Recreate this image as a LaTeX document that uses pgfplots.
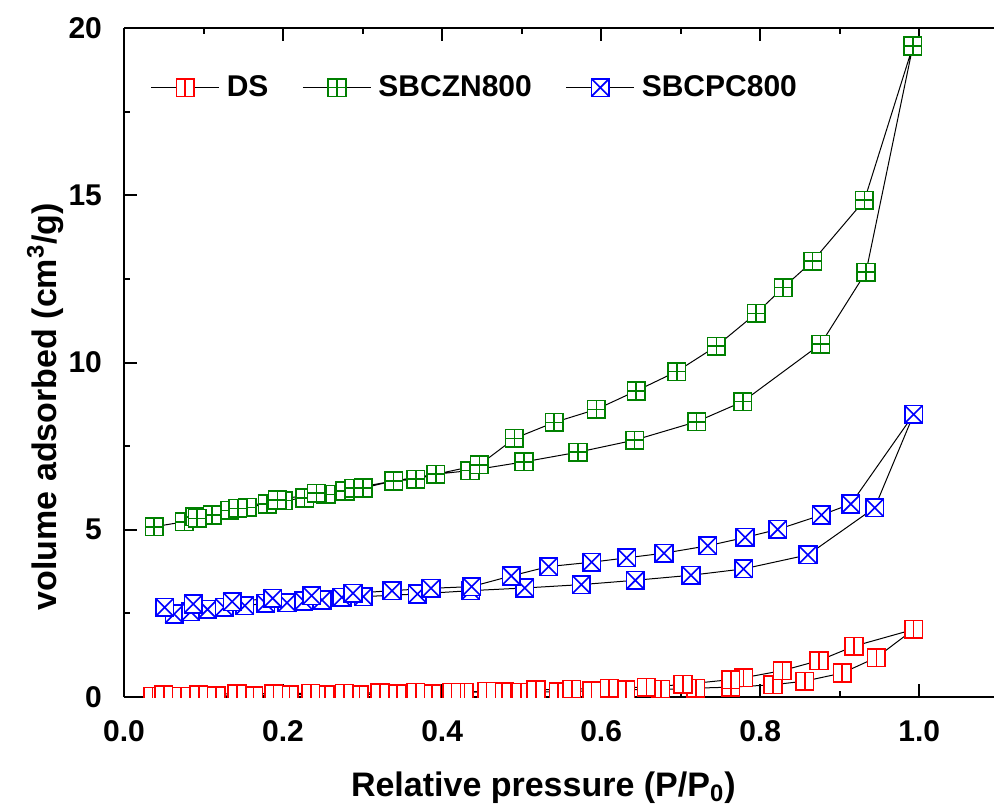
\documentclass[border=0pt]{standalone}
\usepackage{fontspec}
\setmainfont{Liberation Sans}
\usepackage{pgfplots}
\pgfplotsset{compat=1.18}

\definecolor{dsred}{HTML}{FF0000}
\definecolor{zngreen}{HTML}{008000}
\definecolor{pcblue}{HTML}{0000FF}

% open squares split by a bar, a plus and a cross
\pgfdeclareplotmark{sqbar}{%
  \pgfpathrectangle{\pgfqpoint{-\pgfplotmarksize}{-\pgfplotmarksize}}{\pgfqpoint{2\pgfplotmarksize}{2\pgfplotmarksize}}%
  \pgfusepathqfillstroke
  \pgfpathmoveto{\pgfqpoint{0pt}{-\pgfplotmarksize}}%
  \pgfpathlineto{\pgfqpoint{0pt}{\pgfplotmarksize}}%
  \pgfusepathqstroke}
\pgfdeclareplotmark{sqplus}{%
  \pgfpathrectangle{\pgfqpoint{-\pgfplotmarksize}{-\pgfplotmarksize}}{\pgfqpoint{2\pgfplotmarksize}{2\pgfplotmarksize}}%
  \pgfusepathqfillstroke
  \pgfpathmoveto{\pgfqpoint{0pt}{-\pgfplotmarksize}}%
  \pgfpathlineto{\pgfqpoint{0pt}{\pgfplotmarksize}}%
  \pgfpathmoveto{\pgfqpoint{-\pgfplotmarksize}{0pt}}%
  \pgfpathlineto{\pgfqpoint{\pgfplotmarksize}{0pt}}%
  \pgfusepathqstroke}
\pgfdeclareplotmark{sqcross}{%
  \pgfpathrectangle{\pgfqpoint{-\pgfplotmarksize}{-\pgfplotmarksize}}{\pgfqpoint{2\pgfplotmarksize}{2\pgfplotmarksize}}%
  \pgfusepathqfillstroke
  \pgfpathmoveto{\pgfqpoint{-\pgfplotmarksize}{-\pgfplotmarksize}}%
  \pgfpathlineto{\pgfqpoint{\pgfplotmarksize}{\pgfplotmarksize}}%
  \pgfpathmoveto{\pgfqpoint{-\pgfplotmarksize}{\pgfplotmarksize}}%
  \pgfpathlineto{\pgfqpoint{\pgfplotmarksize}{-\pgfplotmarksize}}%
  \pgfusepathqstroke}

\begin{document}
\begin{tikzpicture}
\begin{axis}[
  scale only axis, width=435pt, height=334.5pt,
  xmin=0, xmax=1.094, ymin=0, ymax=20,
  axis x line*=box, axis y line*=left,
  axis line style={-, line width=1pt},
  xtick={0,0.2,0.4,0.6,0.8,1.0}, minor x tick num=1,
  ytick={0,5,10,15,20}, minor y tick num=1,
  tick align=inside,
  major tick length=6.5pt, minor tick length=3pt,
  every tick/.style={black, line width=1pt},
  /pgf/number format/assume math mode=true,
  ticklabel style={font=\fontsize{15}{18}\selectfont\bfseries},
  xticklabel style={/pgf/number format/fixed, /pgf/number format/fixed zerofill,
                    /pgf/number format/precision=1, yshift=-8pt},
  yticklabel style={xshift=-7.5pt},
  xlabel={Relative pressure (P/P\textsubscript{0})},
  ylabel={volume adsorbed (cm\textsuperscript{3}/g)},
  label style={font=\fontsize{17}{20}\selectfont\bfseries},
  xlabel style={at={(axis description cs:0.482,-0.148)}, anchor=base},
  ylabel style={at={(axis description cs:-0.078,0.434)}, anchor=base},
  clip marker paths=true,
  legend style={at={(axis description cs:0.0234,0.911)}, anchor=west,
                draw=none, fill=none, legend columns=3,
                font=\fontsize{15}{18}\selectfont\bfseries,
                /tikz/every odd column/.append style={column sep=1.5pt},
                /tikz/every even column/.append style={column sep=15pt}},
  legend image code/.code={\draw[mark size=4.4pt,mark repeat=2,mark phase=2]
      plot coordinates {(0pt,0pt) (17pt,0pt) (34pt,0pt)};},
]
% DS: adsorption up, then desorption back
\addplot[black, line width=0.5pt, mark=sqbar, mark size=4.4pt,
         mark options={draw=dsred, fill=white, line width=0.8pt}] coordinates {
  (0.036,0.02) (0.072,0.02) (0.116,0.03) (0.163,0.045) (0.208,0.066)
  (0.253,0.075) (0.296,0.075) (0.343,0.096) (0.387,0.105) (0.428,0.145)
  (0.478,0.16) (0.499,0.145) (0.546,0.16) (0.588,0.185) (0.631,0.215)
  (0.675,0.225) (0.719,0.265) (0.763,0.295) (0.816,0.365) (0.856,0.475)
  (0.903,0.715) (0.946,1.18) (0.993,2.02)
  (0.918,1.52) (0.874,1.09) (0.828,0.79) (0.779,0.575) (0.763,0.52)
  (0.703,0.375) (0.657,0.295) (0.610,0.265) (0.563,0.235) (0.518,0.215)
  (0.475,0.155) (0.456,0.165) (0.412,0.145) (0.367,0.135) (0.322,0.125)
  (0.277,0.116) (0.235,0.116) (0.188,0.10) (0.142,0.10) (0.094,0.075)
  (0.050,0.075)
};
% SBCZN800
\addplot[black, line width=0.5pt, mark=sqplus, mark size=4.4pt,
         mark options={draw=zngreen, fill=white, line width=0.8pt}] coordinates {
  (0.038,5.09) (0.076,5.24) (0.089,5.39) (0.111,5.44) (0.133,5.58)
  (0.155,5.67) (0.180,5.77) (0.200,5.87) (0.227,5.95) (0.254,6.06)
  (0.278,6.16) (0.301,6.25) (0.339,6.46) (0.367,6.51) (0.392,6.66)
  (0.435,6.77) (0.503,7.03) (0.571,7.32) (0.642,7.68) (0.720,8.23)
  (0.778,8.83) (0.876,10.55) (0.933,12.70) (0.992,19.46)
  (0.931,14.85) (0.866,13.03) (0.829,12.24) (0.795,11.47) (0.745,10.49)
  (0.695,9.73) (0.644,9.15) (0.594,8.60) (0.541,8.21) (0.491,7.73)
  (0.447,6.94) (0.392,6.66) (0.339,6.46) (0.289,6.24) (0.242,6.09)
  (0.193,5.89) (0.143,5.64) (0.092,5.34)
};
% SBCPC800
\addplot[black, line width=0.5pt, mark=sqcross, mark size=4.4pt,
         mark options={draw=pcblue, fill=white, line width=0.8pt}] coordinates {
  (0.063,2.48) (0.084,2.55) (0.105,2.62) (0.126,2.68) (0.152,2.73)
  (0.178,2.80) (0.205,2.82) (0.226,2.87) (0.249,2.90) (0.274,2.98)
  (0.301,3.00) (0.369,3.08) (0.436,3.18) (0.504,3.26) (0.575,3.36)
  (0.643,3.49) (0.713,3.64) (0.779,3.83) (0.860,4.25) (0.944,5.66)
  (0.993,8.45)
  (0.914,5.77) (0.877,5.44) (0.822,5.01) (0.781,4.77) (0.734,4.52)
  (0.679,4.30) (0.632,4.16) (0.588,4.03) (0.534,3.90) (0.487,3.62)
  (0.437,3.30) (0.386,3.25) (0.337,3.18) (0.288,3.10) (0.236,3.03)
  (0.187,2.95) (0.136,2.85) (0.087,2.78) (0.051,2.68)
};
\legend{DS, SBCZN800, SBCPC800}
\end{axis}
\pgfresetboundingbox
\path[use as bounding box] (current axis.south west) ++(-62pt,-56.5pt) rectangle ++(497pt,405pt);
\end{tikzpicture}
\end{document}
